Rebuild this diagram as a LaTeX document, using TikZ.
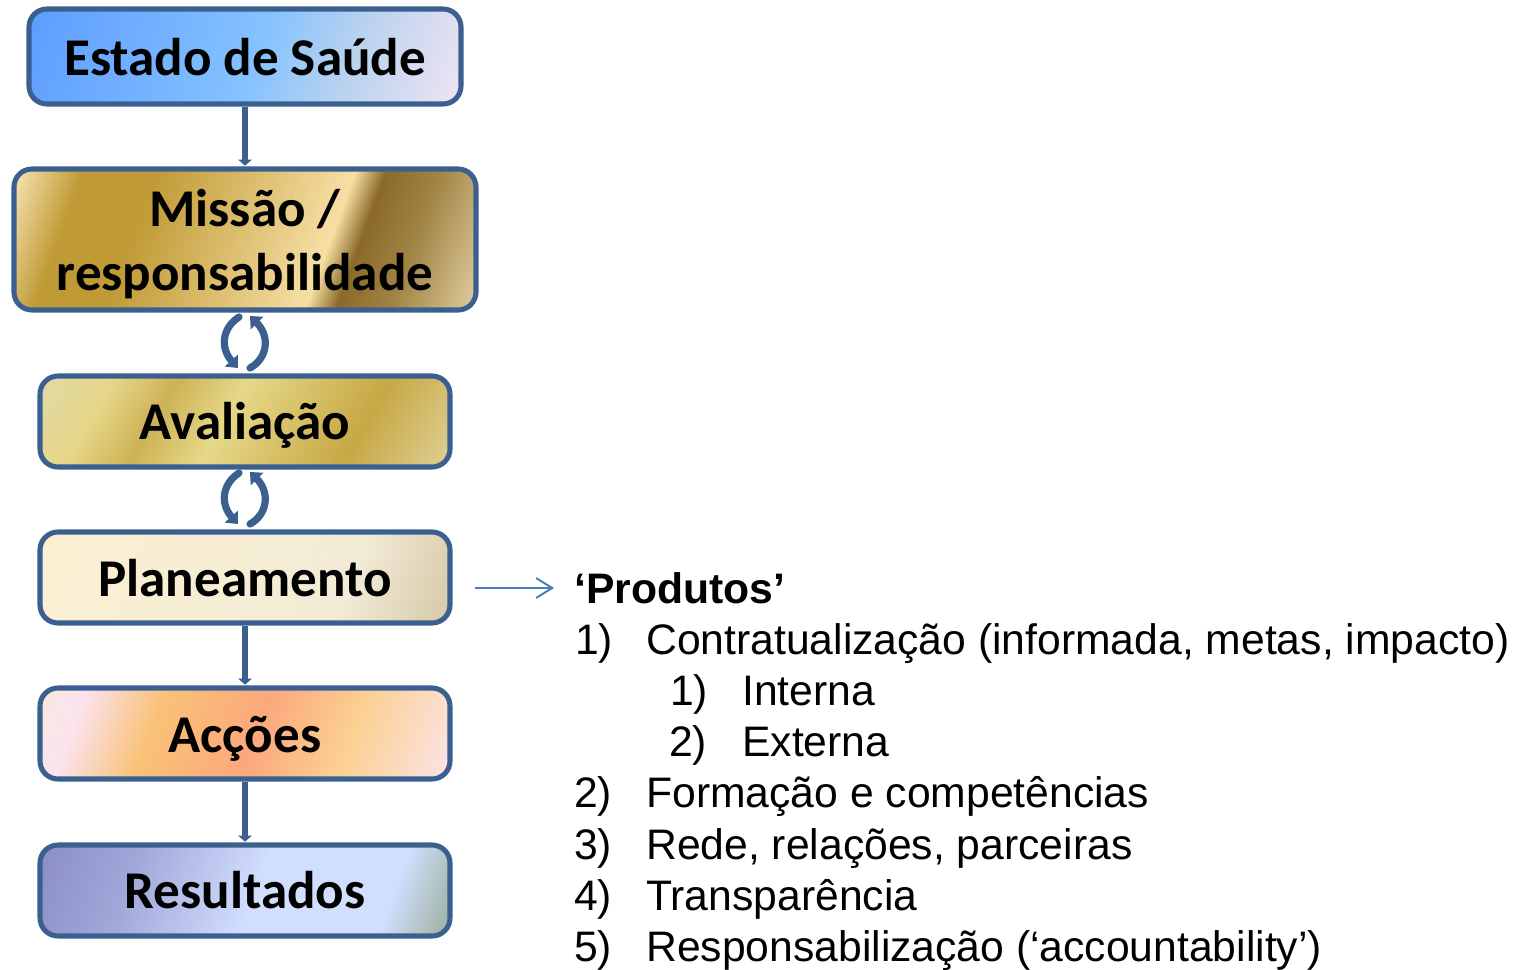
\documentclass[tikz,border=0pt]{standalone}
\usepackage{fontspec}
\setmainfont{Liberation Sans}
\newfontfamily\boxfont{Carlito}
\usetikzlibrary{arrows.meta}
\definecolor{edge}{HTML}{3B6090}
\definecolor{thin}{HTML}{4A7EBB}
\definecolor{a0}{HTML}{5E9EFF}\definecolor{a1}{HTML}{85C2FF}\definecolor{a2}{HTML}{B8D2EE}\definecolor{a3}{HTML}{F0E4F4}
\definecolor{b0}{HTML}{F0DCA5}\definecolor{b1}{HTML}{C09A35}\definecolor{b2}{HTML}{F7DFA5}\definecolor{b3}{HTML}{8B6A28}\definecolor{b4}{HTML}{A08545}\definecolor{b5}{HTML}{DCC696}
\definecolor{c0}{HTML}{E0DAA5}\definecolor{c1}{HTML}{E6D688}\definecolor{c2}{HTML}{CDB255}\definecolor{c3}{HTML}{E6D888}\definecolor{c4}{HTML}{C7A845}\definecolor{c5}{HTML}{DFD096}
\definecolor{d0}{HTML}{FDF0D2}\definecolor{d1}{HTML}{F2EBD6}\definecolor{d2}{HTML}{D6C9A8}
\definecolor{e0}{HTML}{FAE8D8}\definecolor{e1}{HTML}{FBE3F0}\definecolor{e2}{HTML}{F9C277}\definecolor{e3}{HTML}{FBA87C}\definecolor{e4}{HTML}{FBD092}\definecolor{e5}{HTML}{FBE3E4}
\definecolor{f0}{HTML}{8A8EC6}\definecolor{f1}{HTML}{A3A8DA}\definecolor{f2}{HTML}{D1DEFE}\definecolor{f3}{HTML}{D1DEFE}\definecolor{f4}{HTML}{9DB09E}
\pgfdeclarehorizontalshading{gA}{700bp}{color(0bp)=(a0);color(90bp)=(a0);color(310bp)=(a1);color(400bp)=(a2);color(520bp)=(a3);color(600bp)=(a3)}
\pgfdeclarehorizontalshading{gB}{700bp}{color(0bp)=(b0);color(68bp)=(b0);color(125bp)=(b1);color(192bp)=(b1);color(380bp)=(b2);color(409bp)=(b3);color(461bp)=(b4);color(533bp)=(b5);color(600bp)=(b5)}
\pgfdeclarehorizontalshading{gC}{700bp}{color(0bp)=(c0);color(100bp)=(c0);color(166bp)=(c1);color(220bp)=(c2);color(281bp)=(c3);color(405bp)=(c4);color(500bp)=(c5);color(600bp)=(c5)}
\pgfdeclarehorizontalshading{gD}{700bp}{color(0bp)=(d0);color(92bp)=(d0);color(400bp)=(d1);color(506bp)=(d2);color(600bp)=(d2)}
\pgfdeclarehorizontalshading{gE}{700bp}{color(0bp)=(e0);color(85bp)=(e0);color(135bp)=(e1);color(210bp)=(e2);color(310bp)=(e3);color(400bp)=(e4);color(505bp)=(e5);color(600bp)=(e5)}
\pgfdeclarehorizontalshading{gF}{700bp}{color(0bp)=(f0);color(92bp)=(f0);color(190bp)=(f1);color(310bp)=(f2);color(440bp)=(f3);color(506bp)=(f4);color(600bp)=(f4)}
\tikzset{
  x=0.75bp,y=-0.75bp,
  boxedge/.style={draw=edge,line width=3.8bp,rounded corners=13.5bp},
  boxlabel/.style={font=\boxfont\bfseries\fontsize{39.8bp}{48bp}\selectfont,align=center,inner sep=0pt,text=black},
  flow/.style={draw=edge,line width=4.2bp,-{Triangle[length=4.5bp,width=10bp]}},
  cyc/.style={draw=edge,line width=5.4bp,line cap=round,-{Triangle[length=7.5bp,width=13bp]}},
  listitem/.style={anchor=base west,inner sep=0pt,font=\fontsize{32bp}{38bp}\selectfont},
}
\newcommand{\gradbox}[7]{% name, shading, x1,y1,x2,y2, angle
  \begin{scope}
    \clip[rounded corners=13.5bp] (#3,#4) rectangle (#5,#6);
    \begin{scope}[shift={({(#3+#5)/2},{(#4+#6)/2})},rotate=-#7,scale=0.75]
      \pgftext{\pgfuseshading{#2}}
    \end{scope}
  \end{scope}
  \path[boxedge] (#3,#4) rectangle (#5,#6);
  \coordinate (#1-n) at ({(#3+#5)/2},#4);
  \coordinate (#1-s) at ({(#3+#5)/2},#6);
}
\begin{document}
\begin{tikzpicture}
\useasboundingbox (0,0) rectangle (1517,969);
\gradbox{estado}{gA}{29}{9}{461}{104}{20}
\gradbox{missao}{gB}{14}{169}{476}{310}{20}
\gradbox{aval}{gC}{40}{376}{450}{467}{30}
\gradbox{plan}{gD}{40}{532}{450}{623}{20}
\gradbox{accoes}{gE}{40}{688}{450}{779}{20}
\gradbox{result}{gF}{40}{845}{450}{936}{20}
\node[boxlabel] (t1) at (245,57) {Estado de Saúde};
\node[boxlabel] (t2) at (245,244) {Missão /\\responsabilidade};
\node[boxlabel] (t3) at (245,425) {Avaliação};
\node[boxlabel] (t4) at (245,578) {Planeamento};
\node[boxlabel] (t5) at (245,739) {Acções};
\node[boxlabel] (t6) at (245,890) {Resultados};
\draw[flow] ([yshift=-2bp]estado-s) -- ([yshift=2.5bp]missao-n);
\draw[flow] ([yshift=-2bp]plan-s) -- ([yshift=2.5bp]accoes-n);
\draw[flow] ([yshift=-2bp]accoes-s) -- ([yshift=2.5bp]result-n);
% cycle icons
\foreach \cy in {342,498}{
  \draw[cyc] (239,{\cy-25}) .. controls (222,{\cy-14}) and (220,{\cy+6}) .. (238,{\cy+26});
  \draw[cyc] (250,{\cy+26}) .. controls (268,{\cy+16}) and (270,{\cy-6}) .. (250,{\cy-26});
}
% list
\coordinate (arrowstart) at (475,588);
\coordinate (arrowend) at (554,588);
\node[listitem,font=\bfseries\fontsize{32bp}{38bp}\selectfont] (prod) at (574,603) {‘Produtos’};
\draw[draw=thin,line width=1.5bp,-{Straight Barb[length=12bp,width=15bp]}] (arrowstart) -- (arrowend);
\node[listitem] (n1) at (575,654) {1)};
\node[listitem] (l1) at (646,654) {Contratualização (informada, metas, impacto)};
\node[listitem] (n11) at (670,705) {1)};
\node[listitem] (l11) at (742,705) {Interna};
\node[listitem] (n12) at (669,756) {2)};
\node[listitem] (l12) at (742,756) {Externa};
\node[listitem] (n2) at (574,807) {2)};
\node[listitem] (l2) at (646,807) {Formação e competências};
\node[listitem] (n3) at (574,859) {3)};
\node[listitem] (l3) at (646,859) {Rede, relações, parceiras};
\node[listitem] (n4) at (574,910) {4)};
\node[listitem] (l4) at (646,910) {Transparência};
\node[listitem] (n5) at (574,961) {5)};
\node[listitem] (l5) at (646,961) {Responsabilização (‘accountability’)};
\end{tikzpicture}
\end{document}
